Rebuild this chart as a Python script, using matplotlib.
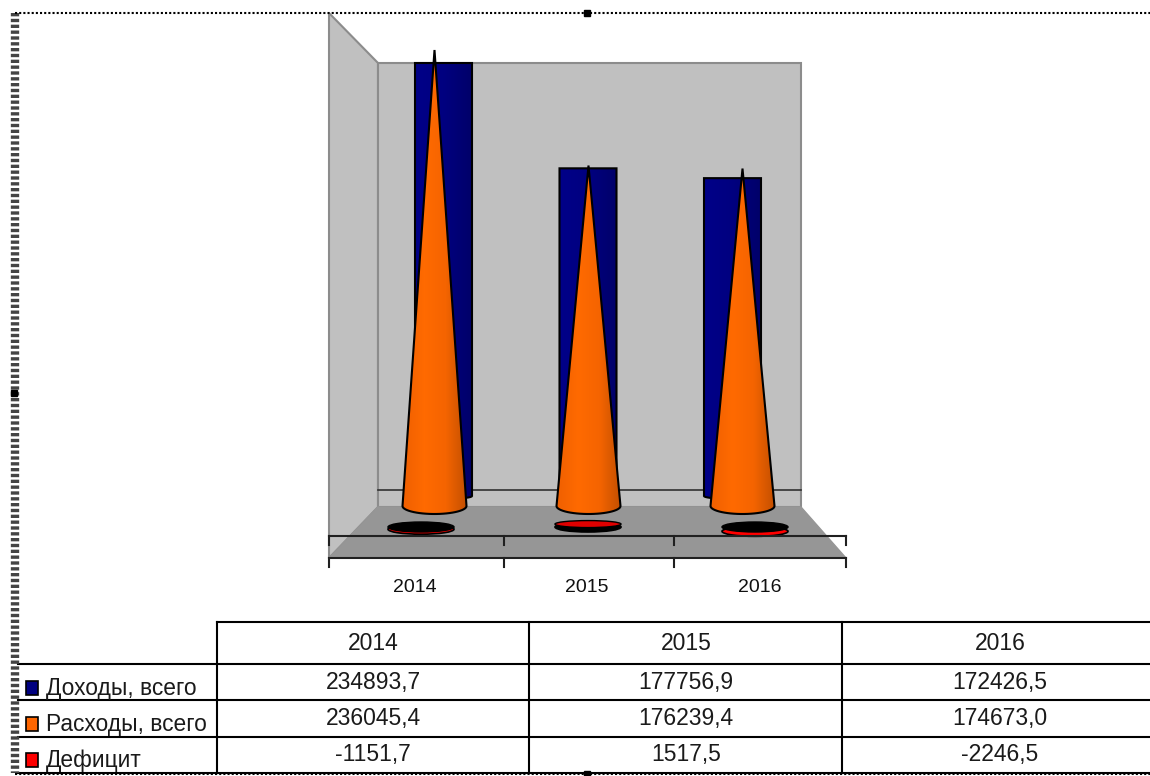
import numpy as np
import matplotlib
matplotlib.use("Agg")
import matplotlib.pyplot as plt
from matplotlib.colors import LinearSegmentedColormap
from matplotlib.patches import Ellipse, Polygon, Rectangle

years = ["2014", "2015", "2016"]
series_names = ["Доходы, всего", "Расходы, всего", "Дефицит"]
revenue = [234893.7, 177756.9, 172426.5]
expenses = [236045.4, 176239.4, 174673.0]
deficit = [-1151.7, 1517.5, -2246.5]

plt.rcParams["font.family"] = ["Liberation Sans", "DejaVu Sans"]

W, H = 1150, 776
fig = plt.figure(figsize=(W / 100, H / 100), dpi=100)

# page axes works in image pixels, used for walls, table and frame
page = fig.add_axes([0, 0, 1, 1])
page.set_xlim(0, W)
page.set_ylim(H, 0)
page.axis("off")


def layer(first_x, step, zero_y, scale):
    # one depth row of the 3D chart: categories on x, values on y
    left = first_x - step / 2
    width = step * 3
    ax = fig.add_axes([left / W, 0, width / W, 1])
    ax.set_xlim(-0.5, 2.5)
    ax.set_ylim(-(H - zero_y) / scale, zero_y / scale)
    ax.axis("off")
    ax.patch.set_alpha(0)
    return ax


# walls and floor
wall_c = "#c0c0c0"
page.add_patch(Polygon([(329, 13), (378, 63), (378, 507), (329, 558)], fc=wall_c, ec="#8c8c8c", lw=1.5))
page.add_patch(Rectangle((378, 63), 423, 444, fc=wall_c, ec="#8c8c8c", lw=1.5))
page.add_patch(Polygon([(378, 507), (801, 507), (846, 558), (329, 558)], fc="#969696", ec="#969696", lw=1))
page.plot([378, 801], [490, 490], color="#303030", lw=1.2)

# blue cylinders at the back
back_scale = (496 - 63) / revenue[0]
back = layer(443.5, 144.5, 496, back_scale)
blue_cmap = LinearSegmentedColormap.from_list("blue", ["#000088", "#000080", "#00006a"])
half_bar = 28.5 / 144.5
dip_bar = 3 / back_scale
for i, v in enumerate(revenue):
    t = np.linspace(np.pi, 2 * np.pi, 20)
    pts = [(i - half_bar, v), (i + half_bar, v)]
    pts += [(i - half_bar * np.cos(a), dip_bar * np.sin(a)) for a in t]
    back.add_patch(Polygon(pts, closed=True, fc="none", ec="black", lw=1.5, zorder=3))
    grad = back.imshow(np.linspace(0, 1, 32).reshape(1, -1), cmap=blue_cmap, aspect="auto",
                       extent=(i - half_bar, i + half_bar, -dip_bar, v), zorder=2)
    grad.set_clip_path(Polygon(pts, closed=True, transform=back.transData))
back.set_xlim(-0.5, 2.5)
back.set_ylim(-(H - 496) / back_scale, 496 / back_scale)

# orange cones
cone_scale = (506 - 50) / expenses[0]
mid = layer(434.5, 154, 506, cone_scale)
cone_cmap = LinearSegmentedColormap.from_list("cone", ["#f06000", "#ff6a00", "#f56400", "#c45000"])
half = 32 / 154
dip = 8 / cone_scale
for i, v in enumerate(expenses):
    t = np.linspace(np.pi, 2 * np.pi, 30)
    pts = [(i, v)] + [(i + half * np.cos(a), dip * np.sin(a)) for a in t]
    mid.add_patch(Polygon(pts, closed=True, fc="none", ec="black", lw=1.5, zorder=3))
    grad = mid.imshow(np.linspace(0, 1, 64).reshape(1, -1), cmap=cone_cmap, aspect="auto",
                      extent=(i - half, i + half, -dip, v), zorder=2)
    grad.set_clip_path(Polygon(pts, closed=True, transform=mid.transData))
mid.set_xlim(-0.5, 2.5)
mid.set_ylim(-(H - 506) / cone_scale, 506 / cone_scale)

# small deficit discs on the floor
front = layer(421, 167, 527, cone_scale)
disc_w = 66 / 167
disc_h = 10 / cone_scale
for i, v in enumerate(deficit):
    if v < 0:
        front.add_patch(Ellipse((i, v), disc_w, disc_h, fc="#ff0000", ec="black", lw=1.2, zorder=2))
        front.add_patch(Ellipse((i, 0), disc_w, disc_h, fc="black", ec="black", lw=1.0, zorder=3))
    else:
        front.add_patch(Ellipse((i, 0), disc_w, disc_h, fc="black", ec="black", lw=1.2, zorder=2))
        front.add_patch(Ellipse((i, v), disc_w, disc_h * 0.7, fc="#e00000", ec="black", lw=1.0, zorder=3))

# overlay for axis lines, labels and table
over = fig.add_axes([0, 0, 1, 1])
over.set_xlim(0, W)
over.set_ylim(H, 0)
over.axis("off")
over.patch.set_alpha(0)

tick_x = [329, 504, 674, 846]
for y0 in [536, 558]:
    over.plot([tick_x[0], tick_x[-1]], [y0, y0], color="#202020", lw=1.5)
    for tx in tick_x:
        over.plot([tx, tx], [y0, y0 + 9], color="#202020", lw=1.5)
for lab, lx in zip(years, [415, 587, 760]):
    over.text(lx, 587, lab, ha="center", va="center", fontsize=14, color="#111111")

# data table
col_x = [217, 529, 842, 1150]
row_y = [622, 664, 700, 737, 773]
line_kw = dict(color="black", lw=1.5)
over.plot([col_x[0], W], [row_y[0], row_y[0]], **line_kw)
for y0 in row_y[1:]:
    over.plot([18, W], [y0, y0], **line_kw)
for cx in col_x[:3]:
    over.plot([cx, cx], [row_y[0], row_y[-1]], **line_kw)

text_c = "#1a1a1a"
col_mid = [373, 686, 1000]
for j, lab in enumerate(years):
    over.text(col_mid[j], 643, lab, ha="center", va="center", fontsize=16.5, color=text_c)

colors = ["#000080", "#ff6600", "#ff0000"]
for r, (name, vals, col) in enumerate(zip(series_names, [revenue, expenses, deficit], colors)):
    yc = [682, 718, 754][r]
    for j, v in enumerate(vals):
        s = f"{v:.1f}".replace(".", ",")
        over.text(col_mid[j], yc, s, ha="center", va="center", fontsize=16.5, color=text_c)
    over.add_patch(Rectangle((26, yc - 1), 12, 14, fc=col, ec="black", lw=1.2))
    over.text(46, yc + 7, name, ha="left", va="center", fontsize=16.4, color=text_c)

# selection frame around the object
over.plot([15, 15], [13, 773], color="#444444", lw=6, ls=(0, (0.4, 0.3)))
over.plot([15, W], [13, 13], color="black", lw=1.5, ls=(0, (1, 1)))
over.plot([15, W], [774, 774], color="black", lw=1.5, ls=(0, (1, 1)))
over.plot([587, 587, 14], [13, 774, 393], ls="none", marker="s", ms=4.5, color="black")
over.set_xlim(0, W)
over.set_ylim(H, 0)

fig.savefig("out.png", dpi=100, facecolor="white")
